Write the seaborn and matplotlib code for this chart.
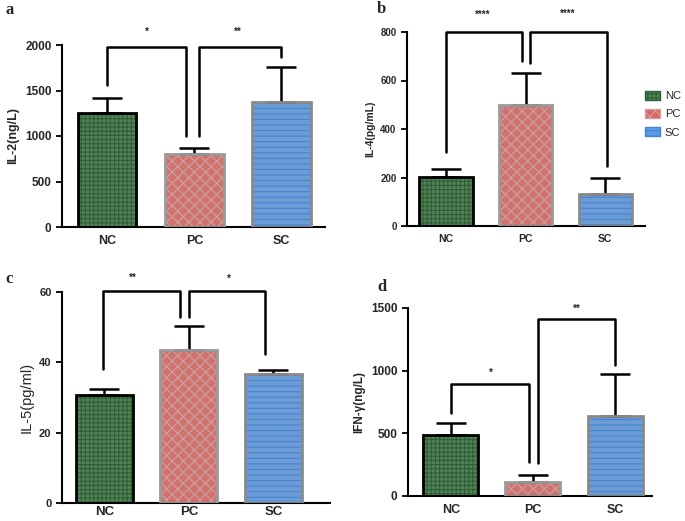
import numpy as np
import pandas as pd
import seaborn as sns
import matplotlib.pyplot as plt
from matplotlib.patches import Rectangle, Patch

groups = ['NC', 'PC', 'SC']

il2 = [1255, 800, 1375]
il2_err = [160, 70, 385]
il4 = [203, 497, 132]
il4_err = [32, 133, 68]
il5 = [30.8, 43.5, 36.8]
il5_err = [1.5, 6.7, 0.9]
ifn = [485, 115, 640]
ifn_err = [95, 50, 335]

sns.set_style('ticks')
plt.rcParams['font.family'] = ['Liberation Sans', 'DejaVu Sans']
plt.rcParams['hatch.linewidth'] = 0.8

face = {'NC': '#4b8a52', 'PC': '#e2625f', 'SC': '#5a9be8'}
hatch_col = {'NC': '#2f5f34', 'PC': '#c9a3a3', 'SC': '#4683d2'}
hatches = {'NC': '++++', 'PC': 'xxx', 'SC': '---'}
outline = {'NC': 'black', 'PC': '#9a9a9a', 'SC': '#8a8a8a'}

fig = plt.figure(figsize=(6.85, 5.21), dpi=100)

panels = [
    dict(v=il2, e=il2_err, lab='IL-2(ng/L)', ylim=2000, ticks=[0, 500, 1000, 1500, 2000],
         rect=[62/685, 1-227/521, 263/685, 182/521], xlim=(-0.52, 2.5),
         lw=dict(fontsize=9, fontweight='bold'), tfs=8.5, xfs=9, pad=6,
         letter=('a', 5/685, 1-14/521),
         br=[(0, 0.9, 1980, 1560, 1000), (1.05, 2.0, 1980, 1000, 1870)],
         stars=[('*', 0.46, 2140), ('**', 1.5, 2150)]),
    dict(v=il4, e=il4_err, lab='IL-4(pg/mL)', ylim=800, ticks=[0, 200, 400, 600, 800],
         rect=[407/685, 1-226/521, 238/685, 194/521], xlim=(-0.49, 2.5),
         lw=dict(fontsize=7.5, fontweight='bold'), tfs=7, xfs=7.5, pad=6,
         letter=('b', 377/685, 1-13/521),
         br=[(0, 0.96, 800, 305, 680), (1.06, 2.02, 800, 673, 248)],
         stars=[('****', 0.46, 870), ('****', 1.53, 875)]),
    dict(v=il5, e=il5_err, lab='IL-5(pg/ml)', ylim=60, ticks=[0, 20, 40, 60],
         rect=[62/685, 1-503/521, 268/685, 211/521], xlim=(-0.5, 2.67),
         lw=dict(fontsize=10.5), tfs=8, xfs=9.5, pad=2.5,
         letter=('c', 5/685, 1-283/521),
         br=[(-0.02, 0.9, 60.3, 38.1, 52.9), (1.0, 1.9, 60.3, 52.9, 42.5)],
         stars=[('**', 0.34, 64.0), ('*', 1.47, 63.8)]),
    dict(v=ifn, e=ifn_err, lab='IFN-γ(ng/L)', ylim=1500, ticks=[0, 500, 1000, 1500],
         rect=[408/685, 1-496/521, 244/685, 188/521], xlim=(-0.52, 2.45),
         lw=dict(fontsize=8.5, fontweight='bold'), tfs=8.5, xfs=9, pad=6,
         letter=('d', 377/685, 1-291/521),
         br=[(0, 0.95, 891, 662, 271), (1.06, 2.0, 1415, 263, 1048)],
         stars=[('*', 0.49, 985), ('**', 1.54, 1495)]),
]

for p in panels:
    ax = fig.add_axes(p['rect'])
    df = pd.DataFrame({'group': groups, 'value': p['v']})
    sns.barplot(data=df, x='group', y='value', hue='group', order=groups,
                palette=face, width=0.67, linewidth=0, legend=False, ax=ax)
    for patch, g in zip(ax.patches, groups):
        patch.set_hatch(hatches[g])
        patch.set_edgecolor(hatch_col[g])
        ax.add_patch(Rectangle((patch.get_x(), patch.get_y()), patch.get_width(),
                               patch.get_height(), fill=False, edgecolor=outline[g],
                               linewidth=2, zorder=3))
    ax.errorbar(x=np.arange(3), y=p['v'], yerr=[np.zeros(3), p['e']], fmt='none',
                ecolor='black', elinewidth=1.8, capsize=11, capthick=1.8, zorder=2)
    for x1, x2, top, b1, b2 in p['br']:
        ax.plot([x1, x1, x2, x2], [b1, top, top, b2], color='black', lw=1.8,
                clip_on=False, zorder=4)
    for s, sx, sy in p['stars']:
        ax.text(sx, sy, s, ha='center', va='center', fontsize=7, fontweight='bold',
                clip_on=False)
    ax.set_ylim(0, p['ylim'])
    ax.set_xlim(*p['xlim'])
    ax.set_yticks(p['ticks'])
    ax.set_xlabel('')
    ax.set_ylabel(p['lab'], **p['lw'])
    for lbl in ax.get_yticklabels():
        lbl.set_fontweight('bold')
        lbl.set_fontsize(p['tfs'])
    ax.set_xticks(range(3))
    ax.set_xticklabels(groups, fontweight='bold', fontsize=p['xfs'])
    ax.tick_params(axis='y', direction='out', length=4, width=1.3, color='black')
    ax.tick_params(axis='x', length=0, pad=p['pad'])
    sns.despine(ax=ax)
    for sp in ['left', 'bottom']:
        ax.spines[sp].set_linewidth(1.5)
        ax.spines[sp].set_color('black')
    fig.text(p['letter'][1], p['letter'][2], p['letter'][0], fontsize=12,
             fontweight='bold', family='Liberation Serif')
    if p['lab'] == 'IL-4(pg/mL)':
        handles = [Patch(facecolor=face[g], edgecolor=hatch_col[g], hatch=hatches[g])
                   for g in groups]
        ax.legend(handles, groups, loc='upper left', bbox_to_anchor=(0.98, 0.72),
                  frameon=False, fontsize=8, handlelength=1.4, handleheight=0.9,
                  handletextpad=0.4, labelspacing=0.7, borderaxespad=0)

fig.savefig('out.png', dpi=100)
